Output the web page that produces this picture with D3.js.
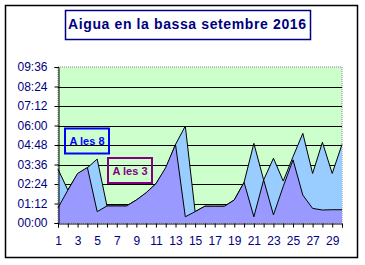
<!DOCTYPE html>
<html>
<head>
<meta charset="utf-8">
<script src="https://cdn.jsdelivr.net/npm/d3@7"></script>
<style>
  body { margin: 0; background: #fff; }
  text { font-family: "Liberation Sans", Arial, sans-serif; }
</style>
</head>
<body>
<div id="chart"></div>
<script>
// days of the month
const days = d3.range(1, 31);
// minutes of water, read at 8h ("A les 8") and at 3h ("A les 3")
const les8 = [199, 122, 180, 204, 236, 63, 63, 63, 85, 110, 145, 200, 290, 358, 42, 62, 62, 62, 85, 150, 294, 159, 239, 155, 245, 331, 183, 298, 183, 290];
const les3 = [56, 121, 183, 205, 42, 63, 63, 63, 85, 112, 145, 205, 290, 23, 42, 62, 62, 62, 85, 150, 23, 159, 30, 135, 233, 103, 54, 48, 49, 49];
// y ticks every 01:12
const yTicks = d3.range(0, 577, 72);

const W = 365, H = 265;
const plot = { left: 58, right: 342, top: 67, bottom: 223 };
const navy = "#000080";

const svg = d3.select("#chart")
  .append("svg")
    .attr("width", W)
    .attr("height", H);

// outer frame
svg.append("rect")
  .attr("x", 5.5).attr("y", 5.5)
  .attr("width", 352).attr("height", 252)
  .attr("fill", "#fff")
  .attr("stroke", "#000")
  .attr("stroke-width", 1.5);

// title box
svg.append("rect")
  .attr("x", 65.5).attr("y", 10.5)
  .attr("width", 245).attr("height", 29)
  .attr("fill", "#fff")
  .attr("stroke", navy)
  .attr("stroke-width", 1.5);
svg.append("text")
  .attr("x", 68).attr("y", 29)
  .attr("textLength", 238)
  .attr("lengthAdjust", "spacing")
  .style("font-size", "14px")
  .style("font-weight", "bold")
  .style("fill", navy)
  .text("Aigua en la bassa setembre 2016");

// scales
const x = d3.scaleLinear().domain([1, 30]).range([plot.left, plot.right]);
const y = d3.scaleLinear().domain([0, 576]).range([plot.bottom, plot.top]);

const fmt = m => d3.format("02")(Math.floor(m / 60)) + ":" + d3.format("02")(m % 60);

// plot background
svg.append("rect")
  .attr("x", plot.left).attr("y", plot.top)
  .attr("width", plot.right - plot.left)
  .attr("height", plot.bottom - plot.top)
  .attr("fill", "#CCFFCC")
  .attr("stroke", "#888")
  .attr("stroke-dasharray", "1,1");

// gridlines
svg.append("g")
  .selectAll("line")
  .data(yTicks.slice(1, -1))
  .enter()
  .append("line")
    .attr("x1", plot.left).attr("x2", plot.right)
    .attr("y1", d => Math.round(y(d)) + 0.5)
    .attr("y2", d => Math.round(y(d)) + 0.5)
    .attr("stroke", "#000");

// areas
const area = d3.area()
  .x((d, i) => x(days[i]))
  .y0(plot.bottom)
  .y1(d => y(d));
const line = d3.line()
  .x((d, i) => x(days[i]))
  .y(d => y(d));

[[les8, "#99CCFF"], [les3, "#9999FF"]].forEach(([data, col]) => {
  svg.append("path")
    .datum(data)
    .attr("d", area)
    .attr("fill", col);
  svg.append("path")
    .datum(data)
    .attr("d", line)
    .attr("fill", "none")
    .attr("stroke", "#000")
    .attr("stroke-width", 1);
});

// y axis
const yAxis = svg.append("g")
  .attr("transform", `translate(${plot.left + 0.5},0)`)
  .call(d3.axisLeft(y).tickValues(yTicks).tickFormat(fmt).tickSize(4).tickPadding(7));
yAxis.select(".domain").attr("stroke", "#000");
yAxis.selectAll("text")
  .style("font-size", "12px")
  .style("fill", navy);

// x axis
const xAxis = svg.append("g")
  .attr("transform", `translate(0,${plot.bottom + 0.5})`)
  .call(d3.axisBottom(x).tickValues(days).tickFormat(d => d % 2 ? d : "").tickSize(4).tickPadding(9));
xAxis.select(".domain").attr("stroke", "#000");
xAxis.selectAll("text")
  .style("font-size", "12px")
  .style("fill", navy);

// series labels
const labels = [
  { name: "A les 8", col: "#0000FF", x: 65, y: 128.5, w: 44, h: 25 },
  { name: "A les 3", col: "#800080", x: 108, y: 158, w: 44, h: 25 }
];
labels.forEach(l => {
  svg.append("rect")
    .attr("x", l.x).attr("y", l.y)
    .attr("width", l.w).attr("height", l.h)
    .attr("fill", "none")
    .attr("stroke", l.col)
    .attr("stroke-width", 2);
  svg.append("text")
    .attr("x", l.x + l.w / 2).attr("y", l.y + l.h / 2 + 4)
    .attr("text-anchor", "middle")
    .style("font-size", "11px")
    .style("font-weight", "bold")
    .style("fill", l.col)
    .text(l.name);
});
</script>
</body>
</html>
